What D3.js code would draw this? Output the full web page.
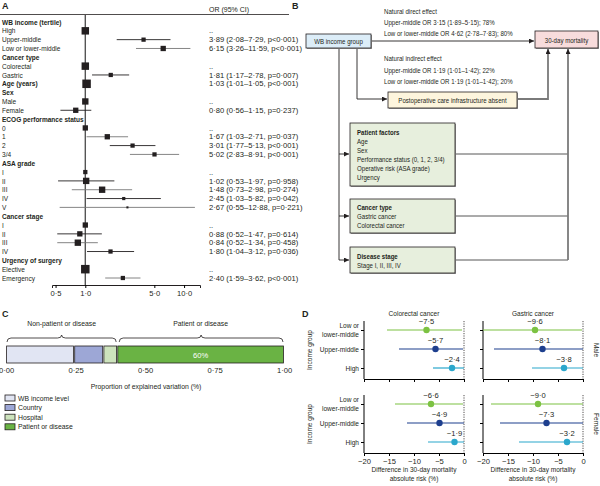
<!DOCTYPE html>
<html><head><meta charset="utf-8">
<script src="https://cdn.jsdelivr.net/npm/d3@7"></script>
<style>
body{margin:0;background:#fff}
text{font-family:"Liberation Sans",Arial,sans-serif;fill:#231f20;font-size:7.6px}
.lab{font-weight:bold;font-size:9px}
</style></head><body>
<svg id="fig" width="600" height="486"></svg>
<script>
// ---------- A: odds ratios ----------
const rowLabels = ["WB income (tertile)","High","Upper-middle","Low or lower-middle","Cancer type","Colorectal","Gastric","Age (years)","Sex","Male","Female","ECOG performance status","0","1","2","3/4","ASA grade","I","II","III","IV","V","Cancer stage","I","II","III","IV","Urgency of surgery","Elective","Emergency"];
const headerRows = [0,4,7,8,11,16,22,27];
const orEst  = [null,1,3.89,6.15,null,1,1.81,1.03,null,1,0.80,null,1,1.67,3.01,5.02,null,1,1.02,1.48,2.45,2.67,null,1,0.88,0.84,1.80,null,1,2.40];
const orLow  = [null,null,2.08,3.26,null,null,1.17,1.01,null,null,0.56,null,null,1.03,1.77,2.83,null,null,0.53,0.73,1.03,0.55,null,null,0.52,0.52,1.04,null,null,1.59];
const orHigh = [null,null,7.29,11.59,null,null,2.78,1.05,null,null,1.15,null,null,2.71,5.13,8.91,null,null,1.97,2.98,5.82,12.88,null,null,1.47,1.34,3.12,null,null,3.62];
const orP    = [null,null,"p<0·001","p<0·001",null,null,"p=0·007","p<0·001",null,null,"p=0·237",null,null,"p=0·037","p<0·001","p<0·001",null,null,"p=0·958","p=0·274","p=0·042","p=0·221",null,null,"p=0·614","p=0·458","p=0·036",null,null,"p<0·001"];
const orWeight = [null,0.77,0.25,0.39,null,0.77,0.25,1,null,0.56,0.39,null,0.39,0.39,0.25,0.25,null,0.25,0.56,0.56,0.14,0.06,null,0.39,0.39,0.56,0.25,null,1,0.25];
const orTicks = [0.5,1,5,10];

// ---------- C: explained variation ----------
const compNames  = ["WB income level","Country","Hospital","Patient or disease"];
const compShares = [0.245,0.105,0.05,0.60];
const compColors = ["#e1e5f3","#9da7d6","#cde3bd","#6ab344"];
const propTicks  = [0,0.25,0.5,0.75,1];

// ---------- D: risk differences ----------
const incomeGroups = ["Low or lower-middle","Upper-middle","High"];
const cancerTypes  = ["Colorectal cancer","Gastric cancer"];
const sexes        = ["Male","Female"];
const maleColorectalEst = [-7.5,-5.7,-2.4],  maleColorectalLow = [-15.4,-13.0,-6.2], maleColorectalHigh = [-0.4,-0.2,0];
const maleGastricEst    = [-9.6,-8.1,-3.8],  maleGastricLow    = [-20,-17.8,-10.2],  maleGastricHigh    = [-0.2,0,0];
const femColorectalEst  = [-6.6,-4.9,-1.9],  femColorectalLow  = [-13.8,-11.4,-7.2], femColorectalHigh  = [-0.2,0,0];
const femGastricEst     = [-9.0,-7.3,-3.2],  femGastricLow     = [-18.4,-16.6,-12.8],femGastricHigh     = [0,0,0];
const diffTicks = [-20,-15,-10,-5,0];

const dot = v => String(v).replace(".", "·");
const minus = s => s.replace("-", "−");
// the journal font is narrower than anything installed, so squash words a bit
function squeeze(sel, f){
  sel.each(function(){
    const L = this.getComputedTextLength();
    if(L>0) d3.select(this).attr("textLength",L*f).attr("lengthAdjust","spacingAndGlyphs");
  });
}
const svg = d3.select("#fig");

// ================= Panel A =================
const gA = svg.append("g");
gA.append("text").attr("class","lab").attr("x",2).attr("y",9).text("A");
gA.append("line").attr("x1",0).attr("x2",289).attr("y1",14.5).attr("y2",14.5).attr("stroke","#231f20").attr("stroke-width",0.8);
gA.append("text").attr("x",209).attr("y",12).text("OR (95% CI)").call(squeeze,0.92);

const xA = d3.scaleLog().domain([0.46,14.5]).range([52,200]);
const yA = d3.scalePoint().domain(d3.range(rowLabels.length)).range([22,278]);
const sA = d3.scaleSqrt().domain([0,1]).range([0,8.5]);

gA.append("line").attr("x1",xA(1)).attr("x2",xA(1)).attr("y1",15).attr("y2",285)
  .attr("stroke","#555").attr("stroke-width",1.4);

gA.selectAll(".rl").data(rowLabels).join("text").attr("class","rl")
  .attr("x",2).attr("y",(d,i)=>yA(i)).attr("dy","0.35em")
  .style("font-weight",(d,i)=>headerRows.includes(i)?"bold":null)
  .text(d=>d).call(squeeze,0.86);

const idx = d3.range(rowLabels.length);
gA.selectAll(".ci").data(idx.filter(i=>orLow[i]!=null)).join("line")
  .attr("x1",i=>xA(orLow[i])).attr("x2",i=>xA(orHigh[i]))
  .attr("y1",i=>yA(i)).attr("y2",i=>yA(i))
  .attr("stroke",(d,k)=>k%2?"#777":"#231f20").attr("stroke-width",0.9);
gA.selectAll(".sq").data(idx.filter(i=>orEst[i]!=null)).join("rect")
  .attr("x",i=>xA(orEst[i])-sA(orWeight[i])/2).attr("y",i=>yA(i)-sA(orWeight[i])/2)
  .attr("width",i=>sA(orWeight[i])).attr("height",i=>sA(orWeight[i]))
  .attr("fill","#231f20");

gA.selectAll(".ort").data(idx.filter(i=>orEst[i]!=null)).join("text")
  .attr("x",209).attr("y",i=>yA(i)).attr("dy","0.35em")
  .text(i=>orLow[i]==null?"..":`${dot(orEst[i].toFixed(2))} (${dot(orLow[i].toFixed(2))}–${dot(orHigh[i].toFixed(2))}, ${orP[i]})`);

const axA = gA.append("g").attr("transform","translate(0,285)")
  .call(d3.axisBottom(xA).tickValues(orTicks).tickFormat(d=>dot(d.toFixed(1))).tickSizeOuter(0).tickSize(3));
axA.select(".domain").attr("stroke","#231f20");
axA.selectAll("text").style("font-size","7.6px").attr("dy","0.6em").attr("fill","#231f20");

// ================= Panel B =================
const gB = svg.append("g");
gB.append("text").attr("class","lab").attr("x",292).attr("y",9).text("B");
svg.append("defs").append("marker").attr("id","arr").attr("viewBox","0 0 6 6")
  .attr("refX",6).attr("refY",3).attr("markerWidth",5).attr("markerHeight",5)
  .attr("markerUnits","userSpaceOnUse").attr("orient","auto")
  .append("path").attr("d","M0,0L6,3L0,6Z").attr("fill","#231f20");

function box(x,y,w,h,fill){
  gB.append("rect").attr("x",x+1).attr("y",y+1).attr("width",w).attr("height",h).attr("fill","#999");
  gB.append("rect").attr("x",x).attr("y",y).attr("width",w).attr("height",h)
    .attr("fill",fill).attr("stroke","#231f20").attr("stroke-width",0.8);
}
function path(d,col,w,arrow){
  const p = gB.append("path").attr("d",d).attr("fill","none").attr("stroke",col).attr("stroke-width",w);
  if(arrow) p.attr("marker-end","url(#arr)");
}
// connectors
path("M371,41H534","#231f20",0.9,true);
path("M357,48V99H387","#231f20",0.9,true);
path("M517,99H548V49","#7a7a7a",1.8,true);
path("M339,48V260","#231f20",0.9,false);
path("M339,154H349","#231f20",0.9,true);
path("M339,216H349","#231f20",0.9,true);
path("M339,260H349","#231f20",0.9,true);
path("M455,154H568M455,216H568M455,260H568","#444",0.9,false);
path("M568,260V49","#7a7a7a",1.8,true);

box(306,34,65,14,"#dcedf8");
box(535,31,63,17,"#f8dcdc");
box(388,92,129,16,"#fdf5dd");
box(350,123,105,63,"#e7efdd");
box(350,199,105,34,"#e7efdd");
box(350,247,105,26,"#e7efdd");

const tB = (x,y,s,bold,anchor)=>gB.append("text").attr("class","tb").attr("x",x).attr("y",y).attr("dy","0.35em")
  .attr("text-anchor",anchor||"start").style("font-size","7.2px").style("font-weight",bold?"bold":null).text(s);
tB(338.5,41,"WB income group",false,"middle");
tB(566.5,40,"30-day mortality",false,"middle");
tB(452.5,100,"Postoperative care infrastructure absent",false,"middle");
tB(384,11,"Natural direct effect");
tB(384,22,"Upper-middle OR 3·15 (1·89–5·15); 78%");
tB(384,33,"Low or lower-middle OR 4·62 (2·78–7·83); 80%");
tB(384,58,"Natural indirect effect");
tB(384,70,"Upper-middle OR 1·19 (1·01–1·42); 22%");
tB(384,81,"Low or lower-middle OR 1·19 (1·01–1·42); 20%");
[["Patient factors",1],["Age"],["Sex"],["Performance status (0, 1, 2, 3/4)"],["Operative risk (ASA grade)"],["Urgency"]]
  .forEach((r,i)=>tB(357,132+i*9,r[0],r[1]));
[["Cancer type",1],["Gastric cancer"],["Colorectal cancer"]].forEach((r,i)=>tB(357,207+i*9,r[0],r[1]));
[["Disease stage",1],["Stage I, II, III, IV"]].forEach((r,i)=>tB(357,256+i*9,r[0],r[1]));
gB.selectAll(".tb").call(squeeze,0.85);

// ================= Panel C =================
const gC = svg.append("g");
gC.append("text").attr("class","lab").attr("x",2).attr("y",317).text("C");
const xC = d3.scaleLinear().domain([0,1]).range([6,284]);
const cum = d3.cumsum(compShares);
const segs = compShares.map((v,i)=>({name:compNames[i],x0:cum[i]-v,x1:cum[i],col:compColors[i]}));
gC.selectAll(".seg").data(segs).join("rect")
  .attr("x",d=>xC(d.x0)+0.6).attr("width",d=>xC(d.x1)-xC(d.x0)-1.2)
  .attr("y",346).attr("height",17).attr("fill",d=>d.col).attr("stroke","#231f20").attr("stroke-width",0.8);
gC.append("text").attr("x",xC(cum[2]+compShares[3]/2)).attr("y",355).attr("dy","0.35em")
  .attr("text-anchor","middle").style("fill","#fff").text(Math.round(compShares[3]*100)+"%");

function brace(a,b,y){
  const m=(a+b)/2;
  return `M${a},${y+4}Q${a},${y} ${a+4},${y}L${m-4},${y}Q${m},${y} ${m},${y-3}Q${m},${y} ${m+4},${y}L${b-4},${y}Q${b},${y} ${b},${y+4}`;
}
gC.append("path").attr("d",brace(xC(0)+1,xC(cum[2])-1,338)).attr("fill","none").attr("stroke","#231f20").attr("stroke-width",0.8);
gC.append("path").attr("d",brace(xC(cum[2])+2,xC(1)-1,338)).attr("fill","none").attr("stroke","#231f20").attr("stroke-width",0.8);
gC.append("text").attr("class","tc").attr("x",(xC(0)+xC(cum[2]))/2).attr("y",326).attr("text-anchor","middle").text("Non-patient or disease");
gC.append("text").attr("class","tc").attr("x",(xC(cum[2])+xC(1))/2).attr("y",326).attr("text-anchor","middle").text("Patient or disease");

const axC = gC.append("g").attr("transform","translate(0,364)")
  .call(d3.axisBottom(xC).tickValues(propTicks).tickFormat(d=>dot(d.toFixed(2))).tickSize(0).tickPadding(4));
axC.select(".domain").remove();
axC.selectAll("text").style("font-size","7.6px").attr("fill","#231f20");
gC.append("text").attr("class","tc").attr("x",146).attr("y",389).attr("text-anchor","middle").text("Proportion of explained variation (%)");

const lg = gC.selectAll(".lg").data(compNames).join("g").attr("transform",(d,i)=>`translate(5,${398+i*9.6})`);
lg.append("rect").attr("x",0).attr("y",-3).attr("width",10).attr("height",6)
  .attr("fill",(d,i)=>compColors[i]).attr("stroke","#231f20").attr("stroke-width",0.8);
lg.append("text").attr("class","tc").attr("x",13).attr("dy","0.35em").text(d=>d);
gC.selectAll(".tc").call(squeeze,0.9);

// ================= Panel D =================
const gD = svg.append("g");
gD.append("text").attr("class","lab").attr("x",302).attr("y",317).text("D");
const groupColors = ["#7cc242","#1d3f8e","#2ba7cc"];
const dData = {
  Male:   [[maleColorectalEst,maleColorectalLow,maleColorectalHigh],[maleGastricEst,maleGastricLow,maleGastricHigh]],
  Female: [[femColorectalEst,femColorectalLow,femColorectalHigh],[femGastricEst,femGastricLow,femGastricHigh]]
};
const colLeft = [364,483], panTop = [321,395], panBot = [379,453];

cancerTypes.forEach((ct,c)=>{
  const x = d3.scaleLinear().domain([-20,0]).range([colLeft[c],colLeft[c]+100]);
  gD.append("text").attr("class","td").attr("x",x(-10)).attr("y",316).attr("text-anchor","middle").text(ct);
  sexes.forEach((sx,s)=>{
    const y = d3.scalePoint().domain(incomeGroups).range([panTop[s]+9,panBot[s]-11]);
    const g = gD.append("g");
    const ax = g.append("g").attr("transform",`translate(0,${panBot[s]})`)
      .call(d3.axisBottom(x).tickValues(diffTicks).tickSize(3).tickSizeOuter(0)
        .tickFormat(s===1?(d=>minus(String(d))):""));
    ax.selectAll("text").style("font-size","7.6px").attr("fill","#231f20");
    const ay = g.append("g").attr("transform",`translate(${x(-20)},0)`)
      .call(d3.axisLeft(y).tickSize(3).tickFormat(""));
    ay.select(".domain").attr("d",`M0,${panTop[s]}V${panBot[s]}`);
    g.append("line").attr("x1",x(0)).attr("x2",x(0)).attr("y1",panTop[s]).attr("y2",panBot[s])
      .attr("stroke","#231f20").attr("stroke-width",0.8).attr("stroke-dasharray","1.2,1.2");
    if(c===0){
      incomeGroups.forEach(gr=>{
        const t = g.append("text").attr("x",x(-20)-5).attr("y",y(gr)).attr("text-anchor","end");
        if(gr==="Low or lower-middle"){
          t.append("tspan").attr("class","td").attr("x",x(-20)-5).attr("dy","-0.2em").text("Low or");
          t.append("tspan").attr("class","td").attr("x",x(-20)-5).attr("dy","1.15em").text("lower-middle");
        } else t.attr("class","td").attr("dy","0.35em").text(gr);
      });
      g.append("text").attr("class","td").attr("transform",`translate(312,${(panTop[s]+panBot[s])/2}) rotate(-90)`)
        .attr("text-anchor","middle").text("Income group");
    } else {
      g.append("text").attr("class","td").attr("transform",`translate(594,${(panTop[s]+panBot[s])/2}) rotate(90)`)
        .attr("text-anchor","middle").text(sx);
    }
    const [est,lo,hi] = dData[sx][c];
    incomeGroups.forEach((gr,i)=>{
      g.append("line").attr("x1",x(lo[i])).attr("x2",x(hi[i])).attr("y1",y(gr)).attr("y2",y(gr))
        .attr("stroke",groupColors[i]).attr("stroke-width",1.2);
      g.append("circle").attr("cx",x(est[i])).attr("cy",y(gr)).attr("r",3.2).attr("fill",groupColors[i]);
      g.append("text").attr("x",x(est[i])).attr("y",y(gr)-6).attr("text-anchor","middle")
        .text(minus(dot(est[i].toFixed(1))));
    });
    if(s===1){
      g.append("text").attr("class","td").attr("x",x(-10)).attr("y",472).attr("text-anchor","middle").text("Difference in 30-day mortality");
      g.append("text").attr("class","td").attr("x",x(-10)).attr("y",481).attr("text-anchor","middle").text("absolute risk (%)");
    }
  });
});
gD.selectAll(".td").call(squeeze,0.86);
</script></body></html>
